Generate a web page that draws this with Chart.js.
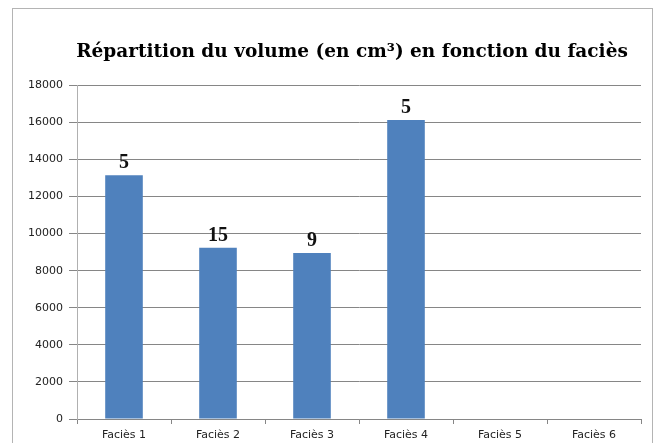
<!DOCTYPE html>
<html>
<head>
<meta charset="utf-8">
<script src="https://cdn.jsdelivr.net/npm/chart.js@4/dist/chart.umd.min.js"></script>
<style>
  html, body { margin: 0; padding: 0; background: #fff; }
  #wrap { position: relative; width: 659px; height: 443px; overflow: hidden; }
  #frame { position: absolute; left: 12px; top: 8px; width: 641px; height: 460px; border: 1px solid #b4b4b4; box-sizing: border-box; pointer-events: none; }
  canvas { position: absolute; left: 0; top: 0; }
</style>
</head>
<body>
<div id="wrap">
  <canvas id="c" width="659" height="443"></canvas>
  <div id="frame"></div>
</div>
<script>
const categories = ["Faciès 1", "Faciès 2", "Faciès 3", "Faciès 4", "Faciès 5", "Faciès 6"];
const volumes = [13150, 9230, 8950, 16120, null, null];
const barLabels = ["5", "15", "9", "5", "", ""];
const yTickStep = 2000;
const yMax = 18000;
const titleText = "Répartition du volume (en cm³) en fonction du faciès";

const barLabelPlugin = {
  id: 'barLabels',
  afterDatasetsDraw(chart) {
    const ctx = chart.ctx;
    const meta = chart.getDatasetMeta(0);
    ctx.save();
    ctx.font = 'bold 20px "Liberation Serif", "Times New Roman", serif';
    ctx.fillStyle = '#111';
    ctx.textAlign = 'center';
    ctx.textBaseline = 'alphabetic';
    meta.data.forEach((bar, i) => {
      if (volumes[i] == null || !barLabels[i]) return;
      ctx.fillText(barLabels[i], bar.x, bar.y - 7);
    });
    ctx.restore();
  }
};

// shift the title block so it is centred where the reference places it
const titleShiftPlugin = {
  id: 'titleShift',
  afterLayout(chart) {
    const tb = chart.titleBlock;
    if (tb) { tb.left = 63; tb.right = 641; }
  }
};

const tickFont = { family: '"DejaVu Sans", sans-serif', size: 11 };

new Chart(document.getElementById('c'), {
  type: 'bar',
  data: {
    labels: categories,
    datasets: [{
      data: volumes,
      backgroundColor: '#4f81bd',
      borderWidth: 0,
      barPercentage: 0.4,
      categoryPercentage: 1.0
    }]
  },
  options: {
    responsive: false,
    animation: false,
    devicePixelRatio: 1,
    layout: { padding: { left: 0, right: 18, top: 0, bottom: 0 } },
    plugins: {
      legend: { display: false },
      tooltip: { enabled: false },
      title: {
        display: true,
        text: titleText,
        color: '#000',
        font: { family: '"DejaVu Serif", serif', size: 18.5, weight: 'bold' },
        padding: { top: 41, bottom: 22 }
      }
    },
    scales: {
      x: {
        grid: { drawOnChartArea: false, drawTicks: true, tickLength: 5, color: '#868686' },
        border: { color: '#868686' },
        ticks: { color: '#222', padding: 5, font: tickFont },
        afterFit(scale) { scale.height = 24; }
      },
      y: {
        min: 0,
        max: yMax,
        grid: { color: '#868686', tickLength: 8 },
        border: { color: '#b0b0b0' },
        ticks: { stepSize: yTickStep, color: '#222', padding: 6, font: tickFont, callback: v => String(v) },
        afterFit(scale) { scale.width = 77; }
      }
    }
  },
  plugins: [barLabelPlugin, titleShiftPlugin]
});
</script>
</body>
</html>
